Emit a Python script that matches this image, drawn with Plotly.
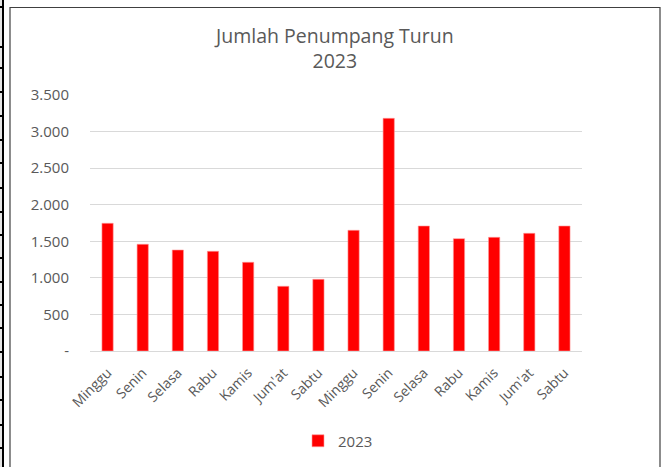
import plotly.graph_objects as go

categories = ["Minggu", "Senin", "Selasa", "Rabu", "Kamis", "Jum'at", "Sabtu",
              "Minggu", "Senin", "Selasa", "Rabu", "Kamis", "Jum'at", "Sabtu"]
values_2023 = [1746, 1459, 1381, 1363, 1213, 885, 980,
               1650, 3181, 1709, 1536, 1554, 1609, 1709]
series_name = "2023"
title_text = "Jumlah Penumpang Turun<br>2023"
tick_vals = [0, 500, 1000, 1500, 2000, 2500, 3000, 3500]
tick_text = ["-", "500", "1.000", "1.500", "2.000", "2.500", "3.000", "3.500"]

W, H = 664, 467
L, R, T, B = 90, 82, 95, 116
pw, ph = W - L - R, H - T - B

def px_x(x):
    return (x - L) / pw

def px_y(y):
    return (H - B - y) / ph

FONT = "Open Sans"
GREY = "#595959"

x_idx = list(range(len(categories)))

fig = go.Figure()
fig.add_trace(go.Bar(
    x=x_idx, y=values_2023, name=series_name,
    marker=dict(color="#FF0000", line=dict(color="#ff9a9a", width=0.6)),
    width=0.32, showlegend=True,
))

shapes = [
    # chart frame
    dict(type="rect", xref="paper", yref="paper",
         x0=px_x(10), x1=px_x(660), y0=px_y(475), y1=px_y(7.5),
         line=dict(color="#404040", width=1.2), fillcolor="rgba(0,0,0,0)", layer="below"),
    # spreadsheet strip at left
    dict(type="rect", xref="paper", yref="paper",
         x0=px_x(0), x1=px_x(2.5), y0=px_y(470), y1=px_y(-2),
         line=dict(width=0), fillcolor="#e6e6e6", layer="below"),
    dict(type="line", xref="paper", yref="paper",
         x0=px_x(3), x1=px_x(3), y0=px_y(470), y1=px_y(-2),
         line=dict(color="#000000", width=2)),
]
for ry in [7, 47, 68, 92, 116, 140, 163, 188, 212, 235, 258, 282, 305, 328, 352, 377, 400, 425, 448]:
    shapes.append(dict(type="line", xref="paper", yref="paper",
                       x0=px_x(0), x1=px_x(3), y0=px_y(ry), y1=px_y(ry),
                       line=dict(color="#000000", width=2)))

fig.update_layout(
    width=W, height=H,
    margin=dict(l=L, r=R, t=T, b=B, pad=0, autoexpand=False),
    paper_bgcolor="white", plot_bgcolor="white",
    font=dict(family=FONT, color=GREY, size=14),
    showlegend=True,
    hovermode=False,
    legend=dict(orientation="h", x=px_x(298), xanchor="left", y=px_y(441), yanchor="middle",
                font=dict(family=FONT, size=15, color=GREY), itemwidth=30,
                borderwidth=0, bgcolor="rgba(0,0,0,0)"),
    xaxis=dict(
        tickmode="array", tickvals=x_idx, ticktext=categories,
        tickangle=-45, range=[-0.5, len(categories) - 0.5],
        showgrid=False, showline=True, linecolor="#d9d9d9", linewidth=1.3,
        ticks="", tickfont=dict(family=FONT, size=14, color=GREY),
        ticklabelstandoff=7,
        zeroline=False, automargin=False,
    ),
    yaxis=dict(
        range=[0, 3500], tickmode="array", tickvals=tick_vals, ticktext=tick_text,
        showgrid=True, gridcolor="#d9d9d9", gridwidth=1.3,
        zeroline=False, showline=False, ticks="",
        ticklabelstandoff=20, automargin=False,
        tickfont=dict(family=FONT, size=15, color=GREY),
    ),
    annotations=[dict(
        text=title_text, xref="paper", yref="paper",
        x=px_x(334), y=px_y(48), xanchor="center", yanchor="middle",
        showarrow=False, align="center",
        font=dict(family=FONT, size=19.5, color=GREY),
    )],
    shapes=shapes,
)

fig.write_html(
    "out.html",
    config={"displayModeBar": False},
    post_script="document.body.style.margin='0';document.body.style.padding='0';",
)
